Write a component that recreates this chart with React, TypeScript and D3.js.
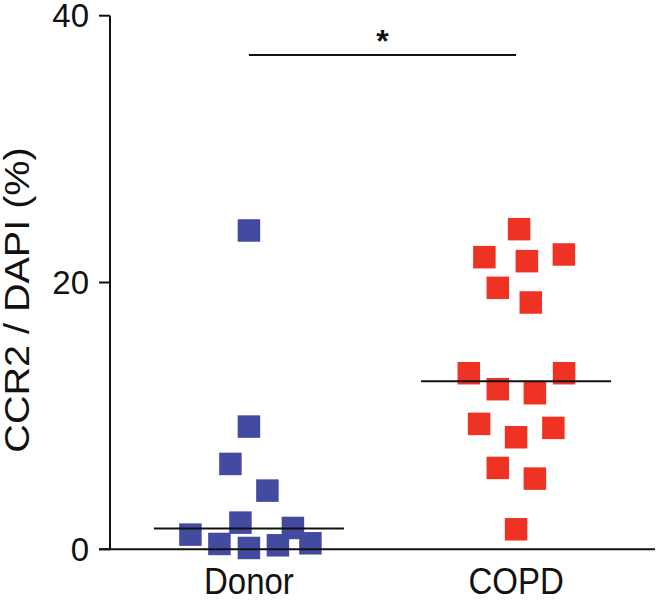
import React from "react";
import * as d3 from "d3";

const categories = ["Donor", "COPD"];
const donorValues = [23.9, 9.2, 6.4, 4.4, 2.0, 1.1, 0.4, 0.1, 1.6, 0.3, 0.45];
const donorJitter = [0, 0, -18.5, 18.5, -8.5, -58.5, -29.5, 0, 44, 29, 61.5];
const copdValues = [24.0, 21.9, 21.6, 22.1, 19.6, 18.5, 13.2, 13.2, 12.0, 11.7, 9.4, 9.1, 8.4, 6.1, 5.3, 1.5];
const copdJitter = [3, -31.7, 10.8, 47.8, -18.3, 14.7, -47.3, 48, -18.3, 18.8, -37, 37.3, 0, -18.3, 18.8, 0];
const medians = [1.55, 12.6];
const yTicks = [0, 20, 40];
const sigLevel = 37.05;
const sigLabel = "*";
const yLabel = "CCR2 / DAPI (%)";

const W = 659;
const H = 600;
const FONT = "Liberation Sans, Arial, Helvetica, sans-serif";

export default function App() {
  const y = d3.scaleLinear().domain([0, 40]).range([549.3, 15.7]);
  const x = d3.scalePoint<string>().domain(categories).range([110, 655]).padding(0.52);
  const sq = 22.5;
  const groups = [
    { cat: "Donor", vals: donorValues, jit: donorJitter, color: "#434ba0" },
    { cat: "COPD", vals: copdValues, jit: copdJitter, color: "#ee3325" },
  ];
  const medHalf = 95;
  const x0 = x("Donor")!;
  const x1 = x("COPD")!;
  return (
    <svg width={W} height={H} style={{ display: "block", position: "absolute", left: 0, top: 0 }}>
      <rect width={W} height={H} fill="#fff" />
      {groups.map((g) =>
        g.vals.map((v, i) => (
          <rect
            key={g.cat + i}
            x={x(g.cat)! + g.jit[i] - sq / 2}
            y={y(v) - sq / 2}
            width={sq}
            height={sq}
            fill={g.color}
          />
        ))
      )}
      {/* axes */}
      <line x1={110} x2={110} y1={y(40)} y2={y(0)} stroke="#111" strokeWidth={2} />
      <line x1={99} x2={655} y1={y(0)} y2={y(0)} stroke="#111" strokeWidth={2} />
      {yTicks.map((t) => (
        <g key={t}>
          <line x1={99} x2={110} y1={y(t)} y2={y(t)} stroke="#111" strokeWidth={2} />
          <text
            x={89}
            y={y(t)}
            textAnchor="end"
            dominantBaseline="central"
            fontFamily={FONT}
            fontSize={33}
            fill="#111"
          >
            {t}
          </text>
        </g>
      ))}
      {categories.map((c) => (
        <text
          key={c}
          transform={`translate(${x(c)},594) scale(1,1.12)`}
          textAnchor="middle"
          fontFamily={FONT}
          fontSize={33}
          fill="#111"
        >
          {c}
        </text>
      ))}
      <text
        transform={`translate(29,300) rotate(-90) scale(1.13,1)`}
        textAnchor="middle"
        fontFamily={FONT}
        fontSize={35}
        fill="#111"
      >
        {yLabel}
      </text>
      {/* medians */}
      {medians.map((m, i) => {
        const cx = x(categories[i])!;
        return (
          <line key={i} x1={cx - medHalf} x2={cx + medHalf} y1={y(m)} y2={y(m)} stroke="#111" strokeWidth={2} />
        );
      })}
      {/* significance */}
      <line x1={x0} x2={x1} y1={y(sigLevel)} y2={y(sigLevel)} stroke="#111" strokeWidth={2} />
      <text
        x={(x0 + x1) / 2}
        y={52}
        textAnchor="middle"
        fontFamily={FONT}
        fontWeight="bold"
        fontSize={32}
        fill="#111"
      >
        {sigLabel}
      </text>
    </svg>
  );
}
